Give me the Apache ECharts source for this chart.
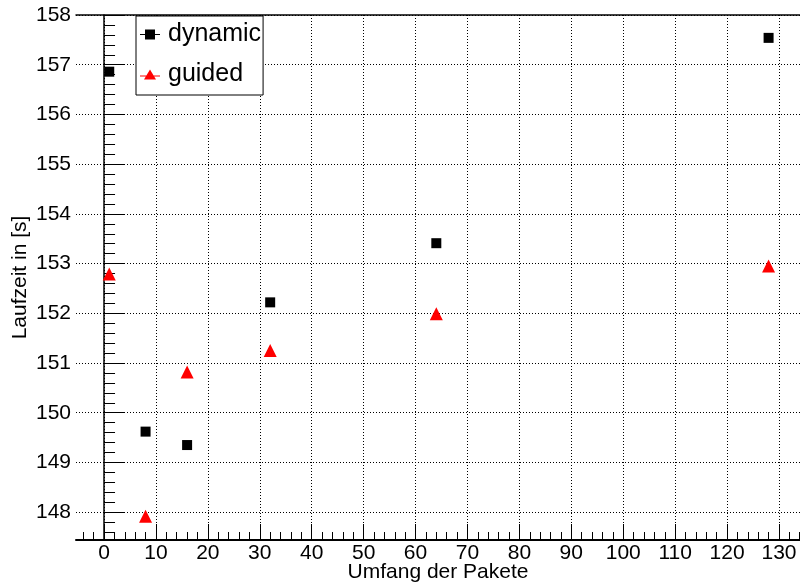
<!DOCTYPE html>
<html><head><meta charset="utf-8">
<script src="https://cdn.jsdelivr.net/npm/echarts@6/dist/echarts.min.js"></script>
<style>html,body{margin:0;padding:0;background:#fff}#c{width:800px;height:586px}</style>
</head><body><div id="c"></div>
<script>
const packetSizes = [1, 8, 16, 32, 64, 128];
const dynamicTimes = [156.86, 149.62, 149.35, 152.22, 153.41, 157.54];
const guidedTimes = [152.79, 147.92, 150.82, 151.25, 151.99, 152.95];
const seriesNames = ['dynamic', 'guided'];
const xTitle = 'Umfang der Pakete';
const yTitle = 'Laufzeit in [s]';
const xRange = [-5.4, 134.05];
const yRange = [147.44, 158];
const xTicks = [0, 10, 20, 30, 40, 50, 60, 70, 80, 90, 100, 110, 120, 130];
const yTicks = [148, 149, 150, 151, 152, 153, 154, 155, 156, 157, 158];
const xMinorStep = 2, yMinorStep = 0.2;

function minorTicks(range, step) {
  const out = [];
  const start = Math.ceil(range[0] / step - 1e-9);
  for (let k = start; k * step <= range[1] + 1e-9; k++) out.push(+(k * step).toFixed(4));
  return out;
}

const FF = '"Liberation Sans", Arial, Helvetica, sans-serif';
const black = '#000000';

const chart = echarts.init(document.getElementById('c'), null, {renderer: 'canvas'});
const dotted = {color: black, type: [1, 2], width: 1};

chart.setOption({
  animation: false,
  backgroundColor: '#ffffff',
  grid: {left: 76, right: 0, top: 15, bottom: 46, containLabel: false, outerBoundsMode: 'none'},
  legend: {
    orient: 'vertical', left: 136, top: 16,
    padding: [6, 2, 8, 4], itemGap: 15,
    itemWidth: 20, itemHeight: 10,
    backgroundColor: '#ffffff', borderColor: black, borderWidth: 1,
    textStyle: {fontFamily: FF, fontSize: 25, color: black, padding: [0, 0, 0, 3]},
    data: [
      {name: seriesNames[0], icon: 'path://M0,4.5h20v1H0z M5,0h10v10H5z'},
      {name: seriesNames[1], icon: 'path://M0,6h20v1H0z M10,0 L16,10 L4,10z'}
    ]
  },
  xAxis: [
    {type: 'value', min: xRange[0], max: xRange[1], position: 'bottom',
     axisLine: {show: true, lineStyle: {color: black, width: 2}},
     axisTick: {show: true, inside: true, length: 16, customValues: xTicks, lineStyle: {color: black, width: 1}},
     axisLabel: {show: true, margin: 3, fontSize: 21, fontFamily: FF, color: black, customValues: xTicks},
     splitLine: {show: true, lineStyle: dotted},
     name: xTitle, nameLocation: 'middle', nameGap: 22, nameMoveOverlap: false,
     nameTextStyle: {fontFamily: FF, fontSize: 21, color: black}},
    {type: 'value', min: xRange[0], max: xRange[1], position: 'bottom',
     axisLine: {show: false}, axisLabel: {show: false}, splitLine: {show: false},
     axisTick: {show: true, inside: true, length: 8, customValues: minorTicks(xRange, xMinorStep), lineStyle: {color: black, width: 1}}},
    {type: 'value', min: xRange[0], max: xRange[1], position: 'top',
     axisLine: {show: true, lineStyle: {color: black, width: 1.5}},
     axisTick: {show: false}, axisLabel: {show: false}, splitLine: {show: false}}
  ],
  yAxis: [
    {type: 'value', min: yRange[0], max: yRange[1], position: 'left',
     axisLine: {show: true, lineStyle: {color: black, width: 1.5}},
     axisTick: {show: true, inside: true, length: 21, customValues: yTicks, lineStyle: {color: black, width: 1}},
     axisLabel: {show: true, margin: 5, fontSize: 21, fontFamily: FF, color: black, customValues: yTicks},
     splitLine: {show: true, lineStyle: dotted},
     name: yTitle, nameLocation: 'middle', nameGap: 45, nameMoveOverlap: false,
     nameTextStyle: {fontFamily: FF, fontSize: 21, color: black}},
    {type: 'value', min: yRange[0], max: yRange[1], position: 'left',
     axisLine: {show: false}, axisLabel: {show: false}, splitLine: {show: false},
     axisTick: {show: true, inside: true, length: 11, customValues: minorTicks(yRange, yMinorStep), lineStyle: {color: black, width: 1}}}
  ],
  series: [
    {name: seriesNames[0], type: 'scatter', xAxisIndex: 0, yAxisIndex: 0,
     symbol: 'rect', symbolSize: 10, itemStyle: {color: black, opacity: 1},
     data: packetSizes.map((x, i) => [x, dynamicTimes[i]])},
    {name: seriesNames[1], type: 'scatter', xAxisIndex: 0, yAxisIndex: 0,
     symbol: 'triangle', symbolSize: 13, itemStyle: {color: '#ff0000', opacity: 1},
     data: packetSizes.map((x, i) => [x, guidedTimes[i]])}
  ]
});
</script></body></html>
